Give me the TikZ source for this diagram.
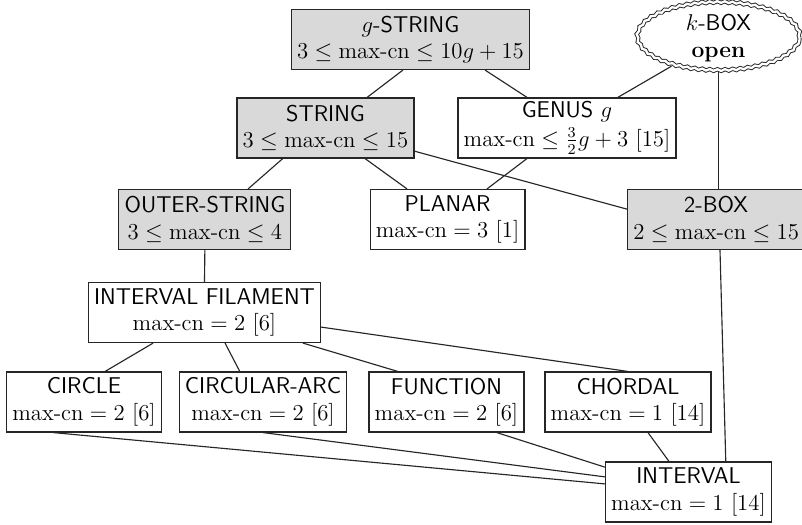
\documentclass[tikz,border=0pt]{standalone}
\usepackage{amsmath,amssymb}
\usepackage{tikz}
\usetikzlibrary{shapes.geometric,decorations.pathmorphing}
\newcommand{\mcn}{\textnormal{max-cn}}
\tikzset{
  cls/.style   = {rectangle, draw=black!85, line width=0.6pt, fill=white,
                  align=center, inner xsep=3pt, inner ysep=1pt,
                  minimum height=1.11cm, font=\fontsize{12}{14}\selectfont},
  opencls/.style = {cls, fill=black!15},
  kcls/.style  = {ellipse, draw=black!85, line width=0.5pt, double, double distance=1.2pt,
                  decorate, decoration={snake, amplitude=0.45pt, segment length=4pt},
                  align=center, inner sep=0pt, minimum width=3.0cm, minimum height=1.26cm,
                  font=\fontsize{12}{14}\selectfont},
  gedge/.style = {draw=black!85, line width=0.6pt},
}

\begin{document}
\begin{tikzpicture}
\useasboundingbox (0,0) rectangle (14.837,9.7125);

%── top rows ──────────────────────────────────────────────
\node[opencls] (gstr)   at ( 7.594, 8.981) {\textsf{$g$-STRING}\\ $3\le\mcn\le 10g+15$};
\node[kcls]    (kbox)   at (13.292, 9.010) {\textsf{$k$-BOX}\\ \textbf{open}};
\node[opencls] (str)    at ( 6.022, 7.345) {\textsf{STRING}\\ $3\le\mcn\le 15$};
\node[cls]     (genus)  at (10.490, 7.345) {\textsf{GENUS $g$}\\[1pt] $\mcn\le\frac{3}{2}g+3\ [15]$};
\node[opencls] (outer)  at ( 3.790, 5.652) {\textsf{OUTER-STRING}\\ $3\le\mcn\le 4$};
\node[cls]     (planar) at ( 8.280, 5.652) {\textsf{PLANAR}\\ $\mcn=3\ [1]$};
\node[opencls] (twobox) at (13.250, 5.652) {\textsf{2-BOX}\\ $2\le\mcn\le 15$};

%── interval filament and its subclasses ──────────────────
\node[cls] (ifil)  at ( 3.783, 3.931) {\textsf{INTERVAL FILAMENT}\\ $\mcn=2\ [6]$};
\node[cls] (circ)  at ( 1.554, 2.275) {\textsf{CIRCLE}\\ $\mcn=2\ [6]$};
\node[cls] (carc)  at ( 4.866, 2.275) {\textsf{CIRCULAR-ARC}\\ $\mcn=2\ [6]$};
\node[cls] (func)  at ( 8.260, 2.275) {\textsf{FUNCTION}\\ $\mcn=2\ [6]$};
\node[cls] (chord) at (11.618, 2.275) {\textsf{CHORDAL}\\ $\mcn=1\ [14]$};
\node[cls] (intv)  at (12.737, 0.610) {\textsf{INTERVAL}\\ $\mcn=1\ [14]$};

%── inclusions ────────────────────────────────────────────
\draw[gedge] ([xshift=-0.14cm]gstr.south) -- ([xshift=0.77cm]str.north);
\draw[gedge] ([xshift=1.38cm]gstr.south) -- ([xshift=-0.74cm]genus.north);
\draw[gedge] (kbox.211) -- ([xshift=0.94cm]genus.north);
\draw[gedge] (kbox.south) -- (kbox.south |- twobox.north);
\draw[gedge] ([xshift=-0.79cm]str.south) -- ([xshift=0.80cm]outer.north);
\draw[gedge] ([xshift=0.73cm]str.south) -- ([xshift=-0.75cm]planar.north);
\draw[gedge] ([yshift=-0.43cm]str.east) -- ([yshift=0.19cm]twobox.west);
\draw[gedge] ([xshift=-0.74cm]genus.south) -- ([xshift=0.73cm]planar.north);
\draw[gedge] (outer.south) -- (ifil.north);
\draw[gedge] ([xshift=0.07cm]twobox.south) -- ([xshift=0.69cm]intv.north);
% filament down to its subclasses
\draw[gedge] ([xshift=-0.95cm]ifil.south) -- ([xshift=0.39cm]circ.north);
\draw[gedge] ([xshift=0.38cm]ifil.south) -- ([xshift=-0.43cm]carc.north);
\draw[gedge] ([xshift=1.82cm]ifil.south) -- ([xshift=-0.90cm]func.north);
\draw[gedge] ([yshift=-0.27cm]ifil.east) -- (chord.north);
% subclasses down to interval
\draw[gedge] ([xshift=-0.57cm]circ.south) -- ([yshift=0.15cm]intv.west);
\draw[gedge] (carc.south) -- ([yshift=0.28cm]intv.west);
\draw[gedge] ([xshift=0.93cm]func.south) -- ([yshift=0.46cm]intv.west);
\draw[gedge] ([xshift=0.37cm]chord.south) -- ([xshift=-0.36cm]intv.north);

\end{tikzpicture}
\end{document}
